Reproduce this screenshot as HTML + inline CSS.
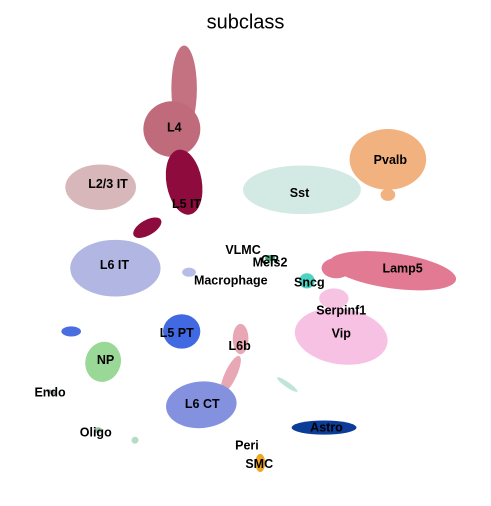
<!DOCTYPE html>
<html><head><meta charset="utf-8">
<style>
html,body{margin:0;padding:0;background:#fff;}
svg{display:block;font-family:"Liberation Sans","DejaVu Sans",sans-serif;}
.lbl{font-weight:bold;font-size:12.5px;fill:#000;text-anchor:middle;dominant-baseline:middle;}
</style></head>
<body>
<svg id="chart" width="491" height="506" viewBox="0 0 491 506" xmlns="http://www.w3.org/2000/svg">
<text x="245.5" y="23" font-size="20" text-anchor="middle" dominant-baseline="middle">subclass</text>
<g id="blobs"></g>
<g id="labels"></g>
</svg>
<script>
// cluster data in UMAP-like coordinates (0..100 each axis)
const clusterNames = ["L4-top","L4","L5 IT","L5 IT-tail","L2/3 IT","Sst","Pvalb","Pvalb-tail","L6 IT","Lamp5","Lamp5-head","Macrophage","VLMC","Sncg","Serpinf1","Vip","L5 PT","L6b","L6b-tail","NP","NP-small","L6 CT","Astro","SMC","Endo","Oligo","Oligo-b","Mint"];
const centerX = [37.5,35.0,37.5,30.0,20.5,61.5,79.0,79.0,23.5,80.0,68.5,38.5,55.0,62.5,68.0,69.5,37.0,49.0,47.0,21.0,14.5,41.0,66.0,53.0,10.5,20.0,27.5,58.5];
const centerY = [17.5,25.5,36.0,45.0,37.0,37.5,31.5,38.5,53.0,53.5,53.0,53.8,51.0,55.5,59.0,66.5,65.5,67.0,74.0,71.5,65.5,80.0,84.5,91.5,77.5,85.0,87.0,76.0];
const radiusX = [2.6,5.8,3.6,3.2,7.2,12.0,7.8,1.5,9.2,13.0,3.0,1.4,1.0,1.6,3.0,9.5,3.8,1.6,1.2,3.6,2.0,7.2,6.6,1.0,1.2,0.8,0.7,2.5];
const radiusY = [8.5,5.5,6.5,1.5,4.5,4.8,6.0,1.2,5.6,3.5,2.0,0.9,0.6,1.5,2.0,5.5,3.4,3.0,4.0,4.0,1.0,4.6,1.4,1.8,0.4,0.6,0.7,0.5];
const rotation = [0,0,-10,-30,0,0,0,0,0,8,0,0,0,0,0,8,0,0,25,15,0,-5,0,0,20,0,45,35];
const colors = ["#c47181","#c06b7c","#8d0b3d","#8d0b3d","#d8b7ba","#d3e9e3","#f2b27f","#f2b27f","#b2b6e2","#e27a93","#e27a93","#b7bde6","#3fa87a","#4fd2c0","#f7c3e2","#f6c1e3","#4169e1","#e8a7b4","#e8a7b4","#99d896","#4a6ee0","#8491de","#0b3c98","#f0a726","#9aa8a0","#9ac7a8","#b6dcc8","#bfe5d6"];
const labelNames = ["L4","L5 IT","L2/3 IT","Sst","Pvalb","L6 IT","Lamp5","VLMC","CR","Meis2","Macrophage","Sncg","Serpinf1","Vip","L5 PT","L6b","NP","Endo","L6 CT","Astro","Oligo","Peri","SMC"];
const labelX = [35.5,38.0,22.0,61.0,79.5,23.3,82.0,49.5,55.0,55.0,47.0,63.0,69.5,69.5,36.0,48.8,21.5,10.2,41.2,66.5,19.5,50.3,52.8];
const labelY = [25.3,40.5,36.5,38.3,31.8,52.5,53.2,49.5,51.5,52.0,55.6,56.0,61.5,66.0,65.9,68.5,71.3,77.7,80.0,84.6,85.6,88.2,91.8];

const plotLeft=0, plotTop=0, plotW=491, plotH=506;
function xs(v){return plotLeft+v/100*plotW;}
function ys(v){return plotTop+v/100*plotH;}
const NS="http://www.w3.org/2000/svg";
const blobs=document.getElementById('blobs');
for(let i=0;i<clusterNames.length;i++){
  const e=document.createElementNS(NS,'ellipse');
  const cx=xs(centerX[i]), cy=ys(centerY[i]);
  e.setAttribute('cx',cx);e.setAttribute('cy',cy);
  e.setAttribute('rx',radiusX[i]/100*plotW);e.setAttribute('ry',radiusY[i]/100*plotH);
  e.setAttribute('fill',colors[i]);
  e.setAttribute('transform','rotate('+rotation[i]+' '+cx+' '+cy+')');
  
  
  blobs.appendChild(e);
}
const labels=document.getElementById('labels');
for(let i=0;i<labelNames.length;i++){
  const t=document.createElementNS(NS,'text');
  t.setAttribute('x',xs(labelX[i]));t.setAttribute('y',ys(labelY[i]));
  t.setAttribute('class','lbl');
  t.textContent=labelNames[i];
  
  
  labels.appendChild(t);
}
</script>
</body></html>
